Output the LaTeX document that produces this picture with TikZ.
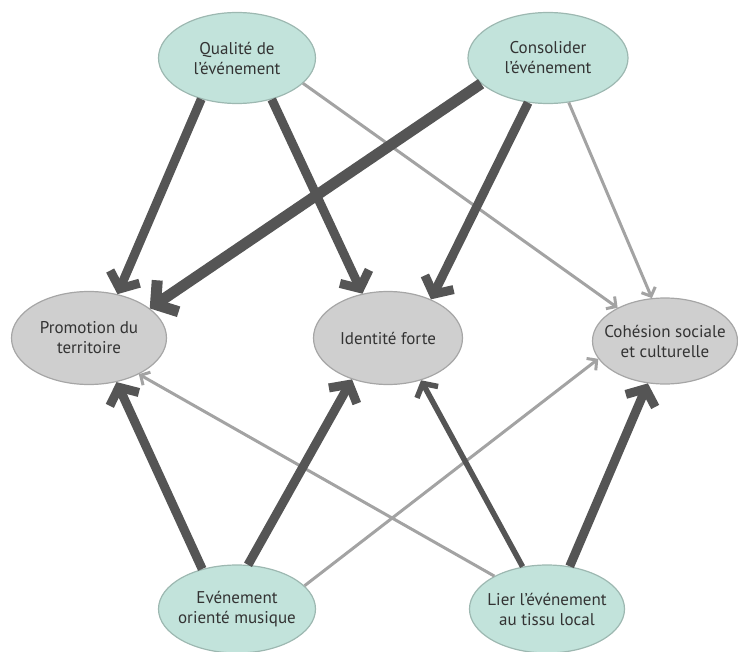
\documentclass[tikz,border=0pt]{standalone}
\usepackage{fontspec}
\setmainfont{PT Sans}
\usepackage{xcolor}
\usepackage{tikz}
\usetikzlibrary{arrows.meta,shapes.geometric}
\definecolor{evteal}{HTML}{C2E3DB}
\definecolor{evtealline}{HTML}{9DB8B1}
\definecolor{evgray}{HTML}{CFCFCF}
\definecolor{evgrayline}{HTML}{A6A6A6}
\definecolor{evdark}{HTML}{555555}
\definecolor{evlight}{HTML}{A3A3A3}
\tikzset{
  driver/.style={ellipse, draw=evtealline, line width=1.2pt, fill=evteal,
    align=center, inner xsep=-14pt, inner ysep=0pt, minimum width=157pt,
    minimum height=91pt, font=\fontsize{17}{20}\selectfont, text=black!80},
  outcome/.style={ellipse, draw=evgrayline, line width=1.2pt, fill=evgray,
    align=center, inner xsep=-14pt, inner ysep=0pt, minimum width=155pt,
    minimum height=93pt, font=\fontsize{17}{20}\selectfont, text=black!80},
  strongest/.style={-{Straight Barb[length=15pt, width=38pt]}, line width=11pt, draw=evdark},
  strong/.style={-{Straight Barb[length=13pt, width=32pt]}, line width=9pt, draw=evdark},
  medium/.style={-{Straight Barb[length=10pt, width=24pt]}, line width=5.5pt, draw=evdark},
  weak/.style={-{Straight Barb[length=7pt, width=15pt]}, line width=3pt, draw=evlight}
}

\begin{document}
\begin{tikzpicture}[x=1pt, y=-1pt]
        \useasboundingbox (0,0) rectangle (738,652);

        % leviers
        \node[driver] (qualite) at (237,58) {Qualité de\\l’événement};
        \node[driver, minimum width=160pt] (consol) at (548,58) {Consolider\\l’événement};
        \node[driver, minimum height=88pt] (musique) at (237,609) {Evénement\\orienté musique};
        \node[driver, minimum width=155pt, minimum height=88pt] (tissu) at (547,609) {Lier l’événement\\au tissu local};

        % effets
        \node[outcome] (promo) at (89,338) {Promotion du\\territoire};
        \node[outcome, minimum width=149pt] (ident) at (388,338) {Identité forte};
        \node[outcome, minimum width=145pt, minimum height=86pt] (cohes) at (665,341) {Cohésion sociale\\et culturelle};

        \draw[weak] (qualite.339) -- (cohes.145);
        \draw[weak] (consol.295) -- (cohes.107);
        \draw[weak] (musique.19) -- (cohes.195);
        \draw[weak] (tissu.148) -- (promo.324);
        \draw[strong] (qualite.229) -- (promo.57);
        \draw[strong] (qualite.310) -- (ident.120);
        \draw[strongest] (consol.201) -- (promo.26);
        \draw[strong] (consol.246) -- (ident.42);
        \draw[strong] (musique.131) -- (promo.302);
        \draw[strong] (musique.76) -- (ident.229);
        \draw[medium] (tissu.120) -- (ident.308);
        \draw[strong] (tissu.62) -- (cohes.248);
    \end{tikzpicture}
\end{document}
